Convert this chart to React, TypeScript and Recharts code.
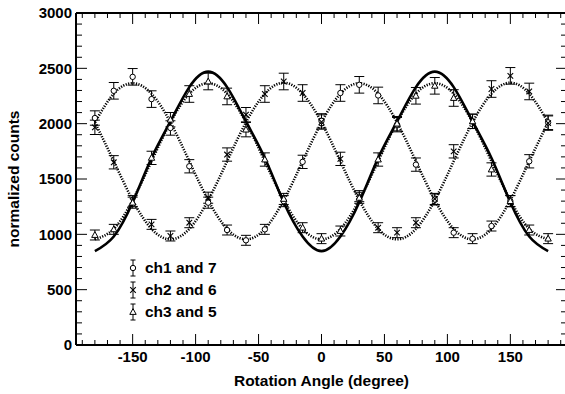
import React from "react";
import {
  ComposedChart,
  Line,
  Scatter,
  ErrorBar,
  XAxis,
  YAxis,
  CartesianGrid,
  ReferenceLine,
} from "recharts";

// rotation angles (degree)
const angles = [
  -180, -165, -150, -135, -120, -105, -90, -75, -60, -45, -30, -15, 0, 15, 30,
  45, 60, 75, 90, 105, 120, 135, 150, 165, 180,
];

// measured normalized counts
const ch17 = [
  2051, 2297, 2423, 2222, 1961, 1615, 1286, 1039, 946, 1045, 1300, 1655, 2025,
  2277, 2351, 2255, 1991, 1630, 1315, 1015, 961, 1075, 1300, 1660, 2012,
];
const ch26 = [
  1967, 1651, 1300, 1090, 985, 1105, 1331, 1721, 2081, 2268, 2381, 2277, 2015,
  1682, 1345, 1060, 1015, 1105, 1320, 1750, 2021, 2313, 2432, 2291, 2005,
];
const ch35 = [
  994, 1045, 1286, 1691, 2036, 2268, 2381, 2246, 1946, 1676, 1320, 1060, 961,
  1030, 1330, 1676, 2000, 2252, 2342, 2232, 2021, 1586, 1300, 1039, 961,
];

// statistical errors
const err17 = [65, 75, 75, 75, 65, 60, 50, 45, 45, 45, 50, 60, 65, 75, 75, 75, 65, 60, 50, 45, 45, 45, 50, 60, 65];
const err26 = [65, 60, 50, 45, 45, 45, 50, 60, 65, 75, 75, 75, 65, 60, 50, 45, 45, 45, 50, 60, 65, 75, 75, 75, 65];
const err35 = [45, 45, 50, 60, 65, 75, 75, 75, 65, 60, 50, 45, 45, 45, 50, 60, 65, 75, 75, 75, 65, 60, 50, 45, 45];

// fitted curves (dotted) and expectation (solid)
const fit17 = [2012, 2271, 2365, 2271, 2012, 1660, 1308, 1049, 955, 1049, 1308, 1660, 2012, 2271, 2365, 2271, 2012, 1660, 1308, 1049, 955, 1049, 1308, 1660, 2012];
const fit26 = [2012, 1660, 1308, 1049, 955, 1049, 1308, 1660, 2012, 2271, 2370, 2271, 2012, 1660, 1308, 1049, 955, 1049, 1308, 1660, 2012, 2271, 2370, 2271, 2012];
const fit35 = [955, 1049, 1308, 1660, 2012, 2271, 2365, 2271, 2012, 1660, 1308, 1049, 955, 1049, 1308, 1660, 2012, 2271, 2365, 2271, 2012, 1660, 1308, 1049, 955];
const fitSolid = [848, 980, 1290, 1690, 2020, 2330, 2470, 2330, 2020, 1690, 1290, 980, 848, 980, 1290, 1690, 2020, 2330, 2470, 2330, 2020, 1690, 1290, 980, 848];

const xTicks = [-150, -100, -50, 0, 50, 100, 150];
const xMinorTicks = [
  -190, -180, -170, -160, -150, -140, -130, -120, -110, -100, -90, -80, -70,
  -60, -50, -40, -30, -20, -10, 0, 10, 20, 30, 40, 50, 60, 70, 80, 90, 100, 110,
  120, 130, 140, 150, 160, 170, 180, 190,
];
const yTicks = [0, 500, 1000, 1500, 2000, 2500, 3000];
const yMinorTicks = [
  0, 100, 200, 300, 400, 500, 600, 700, 800, 900, 1000, 1100, 1200, 1300, 1400,
  1500, 1600, 1700, 1800, 1900, 2000, 2100, 2200, 2300, 2400, 2500, 2600, 2700,
  2800, 2900, 3000,
];

const legendItems = [
  { label: "ch1 and 7", mark: "circle" },
  { label: "ch2 and 6", mark: "cross" },
  { label: "ch3 and 5", mark: "triangle" },
];

const data = angles.map((a, i) => ({
  angle: a,
  c: ch17[i],
  x: ch26[i],
  t: ch35[i],
  ce: err17[i],
  xe: err26[i],
  te: err35[i],
  fc: fit17[i],
  fx: fit26[i],
  ft: fit35[i],
  fs: fitSolid[i],
}));

const FONT = "'Liberation Sans', Arial, Helvetica, sans-serif";
const PH = 332; // plot height
const PW = 491; // plot width
const DOT = "#000";

function Marker({ kind, cx, cy }: { kind: string; cx: number; cy: number }) {
  if (kind === "circle")
    return <circle cx={cx} cy={cy} r={2.7} fill="#fff" stroke="#000" strokeWidth={1} />;
  if (kind === "cross")
    return (
      <g stroke="#000" strokeWidth={1.1}>
        <line x1={cx - 2.8} y1={cy - 2.8} x2={cx + 2.8} y2={cy + 2.8} />
        <line x1={cx - 2.8} y1={cy + 2.8} x2={cx + 2.8} y2={cy - 2.8} />
      </g>
    );
  return (
    <path
      d={`M${cx},${cy - 3.4} L${cx + 3.2},${cy + 2.4} L${cx - 3.2},${cy + 2.4} Z`}
      fill="#fff"
      stroke="#000"
      strokeWidth={1}
    />
  );
}

const shapeOf = (kind: string) => (p: any) =>
  <Marker kind={kind} cx={p.cx} cy={p.cy} />;

// bottom axis: inward ticks at bottom and top of frame, labels on majors
function BottomTick(props: any) {
  const { x, y, payload } = props;
  const major = payload.value % 50 === 0;
  const len = major ? 11 : 5;
  return (
    <g>
      <line x1={x} y1={y} x2={x} y2={y - len} stroke="#000" />
      <line x1={x} y1={y - PH} x2={x} y2={y - PH + len} stroke="#000" />
      {major && (
        <text x={x} y={y + 16.5} textAnchor="middle" fontFamily={FONT} fontWeight="bold" fontSize={15} fill="#000">
          {payload.value}
        </text>
      )}
    </g>
  );
}

// left axis: inward ticks at left and right of frame, labels on majors
function LeftTick(props: any) {
  const { x, y, payload } = props;
  const major = payload.value % 500 === 0;
  const len = major ? 11 : 6;
  return (
    <g>
      <line x1={x} y1={y} x2={x + len} y2={y} stroke="#000" />
      <line x1={x + PW} y1={y} x2={x + PW - len} y2={y} stroke="#000" />
      {major && (
        <text x={x - 4} y={y + 5.4} textAnchor="end" fontFamily={FONT} fontWeight="bold" fontSize={15} fill="#000">
          {payload.value}
        </text>
      )}
    </g>
  );
}

const gridX = ({ xAxis }: any) =>
  xAxis && typeof xAxis.scale === "function" ? xTicks.map((v) => xAxis.scale(v)) : [];
const gridY = ({ yAxis }: any) =>
  yAxis && typeof yAxis.scale === "function" ? yTicks.map((v) => yAxis.scale(v)) : [];

export default function App() {
  return (
    <div
      style={{
        position: "absolute",
        left: 0,
        top: 0,
        width: 565,
        height: 394,
        overflow: "hidden",
        background: "#fff",
        fontFamily: FONT,
      }}
    >
      <ComposedChart
        width={570}
        height={394}
        data={data}
        margin={{ top: 13, right: 3, bottom: 0, left: 0 }}
      >
        <CartesianGrid
          stroke="#000"
          strokeDasharray="1 2"
          strokeWidth={1}
          verticalCoordinatesGenerator={gridX}
          horizontalCoordinatesGenerator={gridY}
        />
        <XAxis
          dataKey="angle"
          type="number"
          domain={[-195, 195]}
          ticks={xMinorTicks}
          interval={0}
          height={49}
          tickSize={0}
          tickMargin={0}
          tickLine={false}
          axisLine={{ stroke: "#000", strokeWidth: 2 }}
          tick={<BottomTick />}
          allowDataOverflow
        />
        <YAxis
          type="number"
          domain={[0, 3000]}
          ticks={yMinorTicks}
          interval={0}
          width={76}
          tickSize={0}
          tickMargin={0}
          tickLine={false}
          axisLine={{ stroke: "#000", strokeWidth: 2 }}
          tick={<LeftTick />}
          allowDataOverflow
        />
        <ReferenceLine y={3000} stroke="#000" strokeWidth={2} ifOverflow="visible" />
        <ReferenceLine x={195} stroke="#000" strokeWidth={2} ifOverflow="visible" />
        <Line dataKey="fc" type="natural" stroke={DOT} strokeWidth={2.6} strokeDasharray="1.2 1.4" dot={false} activeDot={false} isAnimationActive={false} />
        <Line dataKey="fx" type="natural" stroke={DOT} strokeWidth={2.6} strokeDasharray="1.2 1.4" dot={false} activeDot={false} isAnimationActive={false} />
        <Line dataKey="ft" type="natural" stroke={DOT} strokeWidth={2.6} strokeDasharray="1.2 1.4" dot={false} activeDot={false} isAnimationActive={false} />
        <Line dataKey="fs" type="natural" stroke="#000" strokeWidth={2.6} dot={false} activeDot={false} isAnimationActive={false} />
        <Scatter dataKey="c" shape={shapeOf("circle")} isAnimationActive={false}>
          <ErrorBar dataKey="ce" direction="y" width={5} stroke="#000" strokeWidth={1} isAnimationActive={false} />
        </Scatter>
        <Scatter dataKey="x" shape={shapeOf("cross")} isAnimationActive={false}>
          <ErrorBar dataKey="xe" direction="y" width={5} stroke="#000" strokeWidth={1} isAnimationActive={false} />
        </Scatter>
        <Scatter dataKey="t" shape={shapeOf("triangle")} isAnimationActive={false}>
          <ErrorBar dataKey="te" direction="y" width={5} stroke="#000" strokeWidth={1} isAnimationActive={false} />
        </Scatter>
      </ComposedChart>

      {legendItems.map((item, i) => (
        <div
          key={item.label}
          style={{ position: "absolute", left: 126, top: 257 + i * 22.2, height: 22, display: "flex", alignItems: "center" }}
        >
          <svg width={14} height={22} style={{ display: "block" }}>
            <g stroke="#000" strokeWidth={1}>
              <line x1={7} y1={3} x2={7} y2={19} />
              <line x1={4.5} y1={3} x2={9.5} y2={3} />
              <line x1={4.5} y1={19} x2={9.5} y2={19} />
            </g>
            <Marker kind={item.mark} cx={7} cy={11} />
          </svg>
          <span style={{ marginLeft: 5, fontWeight: "bold", fontSize: 15.5, color: "#000", lineHeight: "22px", whiteSpace: "nowrap" }}>
            {item.label}
          </span>
        </div>
      ))}

      <div
        style={{ position: "absolute", left: 0, top: 372, width: 643, textAlign: "center", fontWeight: "bold", fontSize: 15.5, lineHeight: "18px", whiteSpace: "nowrap" }}
      >
        Rotation Angle (degree)
      </div>
      <div
        style={{
          position: "absolute",
          left: 14 - 100,
          top: 179 - 9,
          width: 200,
          height: 18,
          textAlign: "center",
          fontWeight: "bold",
          fontSize: 15.5,
          lineHeight: "18px",
          whiteSpace: "nowrap",
          transform: "rotate(-90deg)",
        }}
      >
        normalized counts
      </div>
    </div>
  );
}
